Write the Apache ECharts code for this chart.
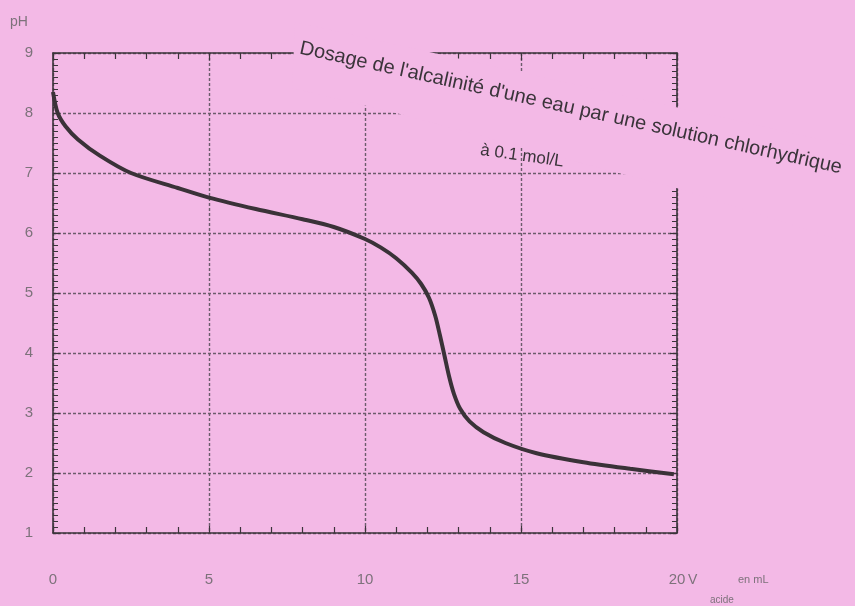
<!DOCTYPE html>
<html>
<head>
<meta charset="utf-8">
<script src="https://cdn.jsdelivr.net/npm/echarts@6/dist/echarts.min.js"></script>
<style>
html,body{margin:0;padding:0;background:#f3b9e6;}
#chart{width:855px;height:606px;}
</style>
</head>
<body>
<div id="chart"></div>
<script>
// Volume of acid added (mL)
const volumes = [0, 0.15, 0.4, 0.8, 1.5, 2.5, 4, 5, 6.5, 8, 9, 10, 10.5, 11, 11.5, 11.8, 12.05, 12.25, 12.4, 12.55, 12.7, 12.85, 13.05, 13.35, 13.8, 14.5, 15.5, 17, 18.5, 19.9];
// Measured pH
const phValues = [8.35, 8.0, 7.78, 7.56, 7.29, 7.0, 6.75, 6.59, 6.4, 6.23, 6.1, 5.9, 5.76, 5.58, 5.34, 5.15, 4.92, 4.62, 4.3, 3.95, 3.6, 3.32, 3.07, 2.86, 2.68, 2.5, 2.33, 2.18, 2.07, 1.98];
const xTicks = [0, 5, 10, 15, 20];
const yTicks = [1, 2, 3, 4, 5, 6, 7, 8, 9];
const titleText = "Dosage de l'alcalinité d'une eau par une solution chlorhydrique";
const subtitleText = "à 0.1 mol/L";

const ink = '#3b343b';
const gridInk = '#6c5c6c';
const labelInk = '#7d727b';

const chart = echarts.init(document.getElementById('chart'));
const baseX = {
  type: 'value', min: xTicks[0], max: xTicks[xTicks.length - 1], interval: 5,
  axisLine: { show: true, onZero: false, lineStyle: { color: ink, width: 1.6 } },
  axisTick: { show: true, inside: true, length: 7, lineStyle: { color: ink, width: 1.2 } },
  minorTick: { show: true, splitNumber: 5, length: 6, lineStyle: { color: ink, width: 1.2 } }
};
const baseY = {
  type: 'value', min: yTicks[0], max: yTicks[yTicks.length - 1], interval: 1,
  axisLine: { show: true, onZero: false, lineStyle: { color: ink, width: 1.6 } },
  axisTick: { show: true, inside: true, length: 7, lineStyle: { color: ink, width: 1.2 } },
  minorTick: { show: true, splitNumber: 10, length: 5, lineStyle: { color: ink, width: 1 } }
};
const font = '"Liberation Sans", Arial, sans-serif';
chart.setOption({
  backgroundColor: '#f3b9e6',
  animation: false,
  grid: { left: 53, right: 178, top: 53, bottom: 73 },
  xAxis: [
    Object.assign({}, baseX, {
      position: 'bottom',
      axisLabel: { show: true, margin: 39, fontSize: 15, color: labelInk, fontFamily: font },
      splitLine: { show: true, lineStyle: { color: gridInk, width: 1.4, type: [3, 2] } }
    }),
    Object.assign({}, baseX, {
      position: 'top',
      axisLabel: { show: false },
      splitLine: { show: false }
    })
  ],
  yAxis: [
    Object.assign({}, baseY, {
      position: 'left',
      axisLabel: { show: true, margin: 20, fontSize: 15, color: labelInk, fontFamily: font },
      splitLine: { show: true, lineStyle: { color: gridInk, width: 1.4, type: [3, 2] } }
    }),
    Object.assign({}, baseY, {
      position: 'right',
      axisLabel: { show: false },
      splitLine: { show: false }
    })
  ],
  series: [{
    type: 'line',
    xAxisIndex: 0, yAxisIndex: 0,
    data: volumes.map((v, i) => [v, phValues[i]]),
    smooth: 0.3,
    showSymbol: false,
    lineStyle: { color: '#3a3238', width: 4 },
    z: 3
  }],
  graphic: [
    {
      type: 'polygon', z: 50, silent: true,
      shape: { points: [[295, 22], [680, 108], [855, 147], [855, 245], [680, 189], [615, 172], [400, 114], [292, 88]] },
      style: { fill: '#f3b9e6' }
    },
    {
      type: 'text', z: 60, x: 300, y: 48, rotation: -0.218,
      style: { text: titleText, font: '20px ' + font, fill: '#3a343a', verticalAlign: 'middle' }
    },
    {
      type: 'text', z: 60, x: 522, y: 156, rotation: -0.14,
      style: { text: subtitleText, font: '17px ' + font, fill: '#3a343a', align: 'center', verticalAlign: 'middle' }
    },
    {
      type: 'text', z: 60, x: 10, y: 22,
      style: { text: 'pH', font: '14px ' + font, fill: labelInk, verticalAlign: 'middle' }
    },
    {
      type: 'text', z: 60, x: 688, y: 580,
      style: { text: 'V', font: '14px ' + font, fill: labelInk, verticalAlign: 'middle' }
    },
    {
      type: 'text', z: 60, x: 710, y: 600,
      style: { text: 'acide', font: '10px ' + font, fill: labelInk, verticalAlign: 'middle' }
    },
    {
      type: 'text', z: 60, x: 738, y: 580,
      style: { text: 'en mL', font: '11px ' + font, fill: labelInk, verticalAlign: 'middle' }
    }
  ]
});
</script>
</body>
</html>
